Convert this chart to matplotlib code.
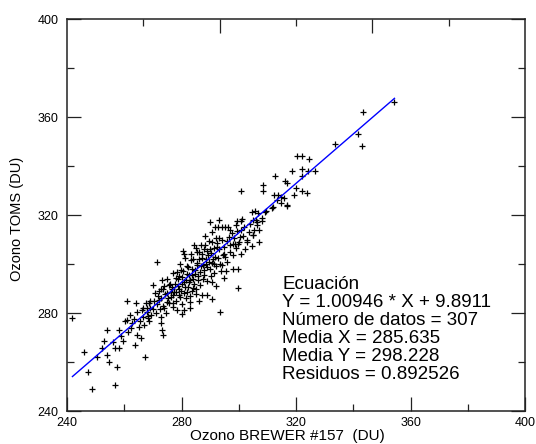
"""Scatter of TOMS vs BREWER #157 total ozone with linear fit."""

import matplotlib
matplotlib.use("Agg")
import matplotlib.pyplot as plt
import numpy as np

plt.rcParams["font.family"] = ["Liberation Sans", "DejaVu Sans"]

# points (BREWER, TOMS), in DU
brewer = [
    241.9, 245.9, 247.5, 248.7, 250.4, 252.3, 254.0, 254.6, 254.0, 256.7,
    256.7, 257.6, 258.0, 258.8, 260.3, 261.0, 261.1, 261.4, 262.4, 262.6,
    263.8, 264.0, 264.6, 265.7, 265.5, 266.1, 266.7, 267.4, 267.8, 268.4,
    269.0, 267.0, 268.4, 268.6, 269.0, 270.2, 270.2, 271.6, 272.0, 272.3,
    272.7, 272.7, 273.1, 273.7, 273.1, 273.7, 273.9, 274.2, 274.8, 275.4,
    275.8, 276.2, 276.6, 276.9, 277.1, 277.7, 278.0, 278.3, 278.5, 278.9,
    279.1, 279.5, 279.7, 280.1, 280.3, 280.6, 280.9, 281.0, 281.2, 281.6,
    281.8, 282.0, 282.4, 282.6, 283.0, 283.2, 283.6, 283.9, 284.1, 284.4,
    284.7, 285.1, 285.3, 285.5, 285.9, 286.2, 286.5, 286.7, 287.0, 287.3,
    287.6, 287.9, 288.1, 288.6, 288.8, 289.4, 289.7, 290.0, 290.2, 290.5,
    290.5, 291.1, 291.5, 291.7, 292.1, 292.5, 292.9, 293.2, 293.5, 293.7,
    294.0, 294.4, 294.8, 295.2, 295.4, 296.4, 297.0, 297.9, 298.7, 299.6,
    299.9, 299.9, 300.4, 300.7, 302.1, 302.8, 304.5, 305.1, 305.4, 306.3,
    307.2, 306.3,
    300.8, 308.6, 308.6, 304.5, 305.7, 306.8, 308.2, 309.2, 293.1, 299.3,
    300.7,
    354.4, 343.3, 341.7, 342.9, 333.6, 320.2, 322.0, 324.7, 312.8, 318.5,
    322.1, 324.3, 326.7, 322.0, 316.3, 316.9, 320.0, 322.0, 323.8, 319.4,
    312.4, 313.8, 314.8, 315.9, 313.4, 314.8, 317.0, 311.8, 309.5,
    311.5, 316.7, 289.9, 304.9,
    268.0, 268.8, 269.5, 270.5, 271.0, 271.3, 271.8, 272.5, 273.0, 273.5,
    274.0, 274.5, 275.0, 275.5, 276.0, 276.3, 276.8, 277.2, 277.5, 278.0,
    278.2, 278.7, 279.0, 279.3, 279.8, 280.0, 280.5, 280.8, 281.0, 281.5,
    281.8, 282.2, 282.5, 282.8, 283.0, 283.5, 283.8, 284.0, 284.5, 284.8,
    285.0, 285.5, 285.8, 286.0, 286.3, 286.8, 287.0, 287.5, 287.8, 288.0,
    288.5, 288.8, 289.0, 289.5, 289.8, 290.2, 290.5, 290.8, 291.2, 291.5,
    291.8, 292.2, 292.5, 292.8, 293.2, 293.5, 294.0, 294.3, 294.8, 295.2,
    295.8, 296.0, 296.5, 297.0, 297.5, 298.0, 298.5, 299.0, 299.5, 300.0,
    300.8, 301.5, 302.0, 303.0, 303.5, 304.0, 305.0, 306.0, 307.0, 308.0,
    262.0, 263.5, 264.5, 265.0, 266.5, 267.5, 259.5, 258.0, 256.0, 253.0,
    277.0, 279.5, 281.3, 283.3, 285.2, 274.8, 272.8, 270.8, 288.3, 290.8,
    296.8, 299.0, 301.0, 295.0, 292.0, 289.0, 286.0, 283.0, 280.0, 298.0,
]
toms = [
    278.0, 263.9, 255.9, 248.8, 262.0, 265.9, 263.0, 260.0, 272.9, 265.9,
    250.7, 257.8, 265.9, 270.7, 276.7, 277.1, 284.9, 272.2, 273.9, 275.9,
    266.8, 284.1, 270.9, 269.8, 276.6, 281.2, 282.0, 262.0, 282.0, 278.8,
    282.0, 275.0, 277.8, 276.9, 284.8, 281.5, 291.3, 300.8, 289.1, 285.4,
    278.5, 276.1, 272.9, 270.9, 293.3, 289.9, 282.0, 287.8, 284.5, 286.1,
    291.3, 288.6, 289.9, 287.2, 284.2, 291.7, 288.6, 281.1, 296.7, 293.7,
    289.9, 286.5, 297.7, 294.6, 292.0, 305.3, 281.1, 303.9, 290.6, 293.3,
    296.1, 288.6, 298.8, 292.7, 284.5, 301.5, 295.4, 290.2, 294.0, 307.6,
    297.7, 287.9, 304.9, 299.7, 293.3, 302.2, 296.7, 307.9, 287.2, 304.2,
    299.5, 295.4, 307.6, 302.2, 298.8, 303.5, 309.3, 306.3, 295.1, 292.7,
    285.9, 302.2, 300.1, 315.1, 310.6, 306.9, 315.1, 310.7, 280.4, 297.0,
    315.1, 303.5, 304.2, 315.1, 297.0, 315.1, 307.6, 308.0, 308.0, 308.0,
    298.1, 290.2, 311.0, 313.7, 306.3, 309.0, 307.2, 311.7, 313.7, 315.8,
    309.0, 317.0,
    329.9, 332.1, 329.9, 321.2, 321.8, 320.7, 319.0, 321.2, 318.0, 317.4,
    317.4,
    366.3, 362.2, 353.1, 348.2, 349.0, 344.1, 344.1, 343.0, 336.1, 338.1,
    339.0, 338.1, 338.1, 336.1, 334.0, 333.2, 330.9, 329.9, 329.1, 328.0,
    328.0, 328.0, 327.2, 327.1, 326.1, 325.0, 324.1, 323.1, 321.8,
    323.0, 323.8, 317.0, 318.0,
    280.5, 283.9, 279.0, 285.0, 280.0, 283.5, 287.0, 281.5, 286.0, 283.0,
    291.0, 280.0, 288.0, 284.0, 292.0, 286.5, 290.5, 282.5, 288.5, 294.5,
    285.0, 291.0, 287.5, 295.0, 289.0, 283.5, 297.0, 288.0, 292.5, 286.0,
    299.0, 290.5, 295.5, 287.0, 293.5, 298.0, 289.0, 302.0, 292.0, 296.0,
    290.0, 300.5, 295.0, 305.0, 291.5, 299.0, 302.5, 294.0, 306.0, 297.5,
    300.0, 305.5, 293.0, 301.0, 298.0, 304.5, 309.0, 300.5, 296.5, 306.5,
    303.0, 299.0, 308.5, 302.5, 306.0, 300.0, 310.0, 299.5, 307.0, 303.0,
    309.5, 301.0, 311.0, 305.0, 312.5, 303.5, 310.5, 306.5, 313.5, 309.0,
    304.0, 311.5, 315.0, 310.0, 313.0, 316.5, 312.0, 318.0, 314.0, 317.5,
    279.0, 277.5, 280.5, 274.5, 278.5, 284.0, 268.5, 273.0, 268.0, 268.5,
    296.5, 300.0, 302.5, 304.0, 306.5, 294.0, 290.0, 288.0, 311.5, 313.0,
    314.0, 316.0, 318.5, 294.5, 291.0, 287.5, 285.0, 282.0, 279.5, 298.0,
]

slope = 1.00946
intercept = 9.8911
stats_lines = [
    "Ecuación",
    "Y = 1.00946 * X + 9.8911",
    "Número de datos = 307",
    "Media X = 285.635",
    "Media Y = 298.228",
    "Residuos = 0.892526",
]
major_ticks = [240, 280, 320, 360, 400]
minor_ticks = [260, 300, 340, 380]

fig = plt.figure(figsize=(5.36, 4.44), dpi=100)
ax = fig.add_axes([0.125, 0.0743, 0.8545, 0.8827])

x = np.array(brewer)
y = np.array(toms)
ax.plot(x, y, linestyle="none", marker="+", markersize=4.0,
        markeredgewidth=0.9, color="black")

xfit = np.array([x.min(), x.max()])
ax.plot(xfit, slope * xfit + intercept, color="#0000ff", linewidth=1.0)

ax.set_xlim(240, 400)
ax.set_ylim(240, 400)
ax.set_xticks(major_ticks)
ax.set_xticks(minor_ticks, minor=True)
ax.set_yticks(major_ticks)
ax.set_yticks(minor_ticks, minor=True)
ax.tick_params(which="both", direction="in", width=0.9, color="#222222",
               labelsize=9, bottom=True, left=True, right=True, top=False)
ax.tick_params(which="major", length=10)
ax.tick_params(which="minor", length=5)
ax.tick_params(axis="x", pad=4)
ax.tick_params(axis="y", pad=6)
for spine in ax.spines.values():
    spine.set_linewidth(1.1)
    spine.set_color("#222222")

# top axis carries its own tick spacing in the original
top = ax.secondary_xaxis("top")
span = [240 + 160 * k / 6 for k in range(7)]
top.set_xticks([span[2], span[4]])
top.set_xticks([span[1], span[3], span[5]], minor=True)
top.tick_params(which="both", direction="in", width=0.9, color="#222222",
                labeltop=False)
top.tick_params(which="major", length=10)
top.tick_params(which="minor", length=5)
top.spines["top"].set_visible(False)

ax.set_xlabel("Ozono BREWER #157  (DU)", fontsize=11)
ax.xaxis.set_label_coords(0.482, -0.047)
ax.set_ylabel("Ozono TOMS (DU)", fontsize=10.5)
ax.yaxis.set_label_coords(-0.094, 0.49)

ax.text(0.47, 0.345, "\n".join(stats_lines), transform=ax.transAxes,
        fontsize=13.5, ha="left", va="top", linespacing=1.08)

fig.savefig("out.png", dpi=100)
